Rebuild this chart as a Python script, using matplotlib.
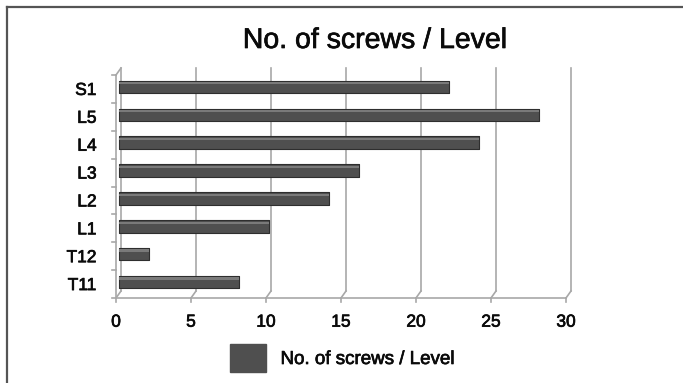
import matplotlib
matplotlib.use("Agg")
import matplotlib.pyplot as plt
import matplotlib.transforms as mtransforms
import matplotlib.patheffects as pe
from matplotlib.patches import Patch
from matplotlib.lines import Line2D

plt.rcParams['font.family'] = ['Liberation Sans', 'DejaVu Sans']

# screws per vertebral level, bottom to top
levels = ["T11", "T12", "L1", "L2", "L3", "L4", "L5", "S1"]
screws = [8, 2, 10, 14, 16, 24, 28, 22]
xticks = [0, 5, 10, 15, 20, 25, 30]

bar_col = "#4f4f4f"
grid_col = "#a8a8a8"
txt_col = "#0a0a0a"
heavy = [pe.withStroke(linewidth=0.5, foreground=txt_col)]

fig = plt.figure(figsize=(6.83, 3.83), dpi=100)
ax = fig.add_axes([116 / 683, 1 - 298 / 383, 450 / 683, 223 / 383])
ax.set_xlim(0, 30)
ax.set_ylim(-0.5, len(levels) - 0.5)

# depth offset of the back wall, in pixels
dx, dy = 5, 7
back = ax.transData + mtransforms.ScaledTranslation(dx / 100, dy / 100, fig.dpi_scale_trans)
mid = ax.transData + mtransforms.ScaledTranslation(3 / 100, 2 / 100, fig.dpi_scale_trans)

# back wall gridlines and the slanted floor edges
for x in xticks:
    ax.plot([x, x], [-0.5, 7.5], color=grid_col, lw=1.2, transform=back, clip_on=False, zorder=1)
    fx, fy = ax.transData.transform((x, -0.5))
    ax.add_line(Line2D([fx, fx + dx], [fy, fy + dy], color=grid_col, lw=1.2,
                       transform=None, clip_on=False))
    ax.add_line(Line2D([fx, fx], [fy, fy - 4], color=grid_col, lw=1.2,
                       transform=None, clip_on=False))
ax.plot([0, 30], [-0.5, -0.5], color=grid_col, lw=1.2, clip_on=False)

# left wall edge with its ticks
ax.plot([0, 0], [-0.5, 7.5], color=grid_col, lw=1.2, clip_on=False)
tx, ty = ax.transData.transform((0, 7.5))
ax.add_line(Line2D([tx, tx + dx], [ty, ty + dy], color=grid_col, lw=1.2,
                   transform=None, clip_on=False))
for k in range(len(levels) + 1):
    px, py = ax.transData.transform((0, k - 0.5))
    ax.add_line(Line2D([px - 4, px], [py, py], color=grid_col, lw=1.2,
                       transform=None, clip_on=False))

# bars with a lighter top edge for a rounded look
ypos = list(range(len(levels)))
ax.barh(ypos, screws, height=0.45, color=bar_col, edgecolor="#2e2e2e", lw=0.8,
        transform=mid, zorder=3, capstyle="round", joinstyle="round")
ax.barh([y + 0.13 for y in ypos], screws, height=0.08, color="#7a7a7a", lw=0,
        transform=mid, zorder=4)

for s in ax.spines.values():
    s.set_visible(False)
ax.set_xticks(xticks)
ax.set_yticks(ypos)
ax.set_yticklabels(levels)
ax.tick_params(axis="both", length=0, labelsize=12.5, colors=txt_col)
ax.tick_params(axis="x", pad=12)
ax.tick_params(axis="y", pad=14)
for lab in ax.get_xticklabels() + ax.get_yticklabels():
    lab.set_path_effects(heavy)

fig.text(375 / 683, 1 - 41 / 383, "No. of screws / Level", ha="center", va="center",
         fontsize=20.5, color=txt_col, path_effects=heavy)

leg = fig.legend(handles=[Patch(color=bar_col, label="No. of screws / Level")],
                 loc="center", bbox_to_anchor=(342 / 683, 1 - 358 / 383), frameon=False,
                 fontsize=13.5, handlelength=1.9, handleheight=1.9, handletextpad=0.8,
                 labelcolor=txt_col)
for t in leg.get_texts():
    t.set_path_effects(heavy)

# outer frame
fig.add_artist(Line2D([7 / 683, 7 / 683], [0, 1 - 7 / 383], color="#555555", lw=1.6,
                      transform=fig.transFigure))
fig.add_artist(Line2D([7 / 683, 1], [1 - 7 / 383, 1 - 7 / 383], color="#555555", lw=1.6,
                      transform=fig.transFigure))

fig.savefig("out.png", dpi=100)
